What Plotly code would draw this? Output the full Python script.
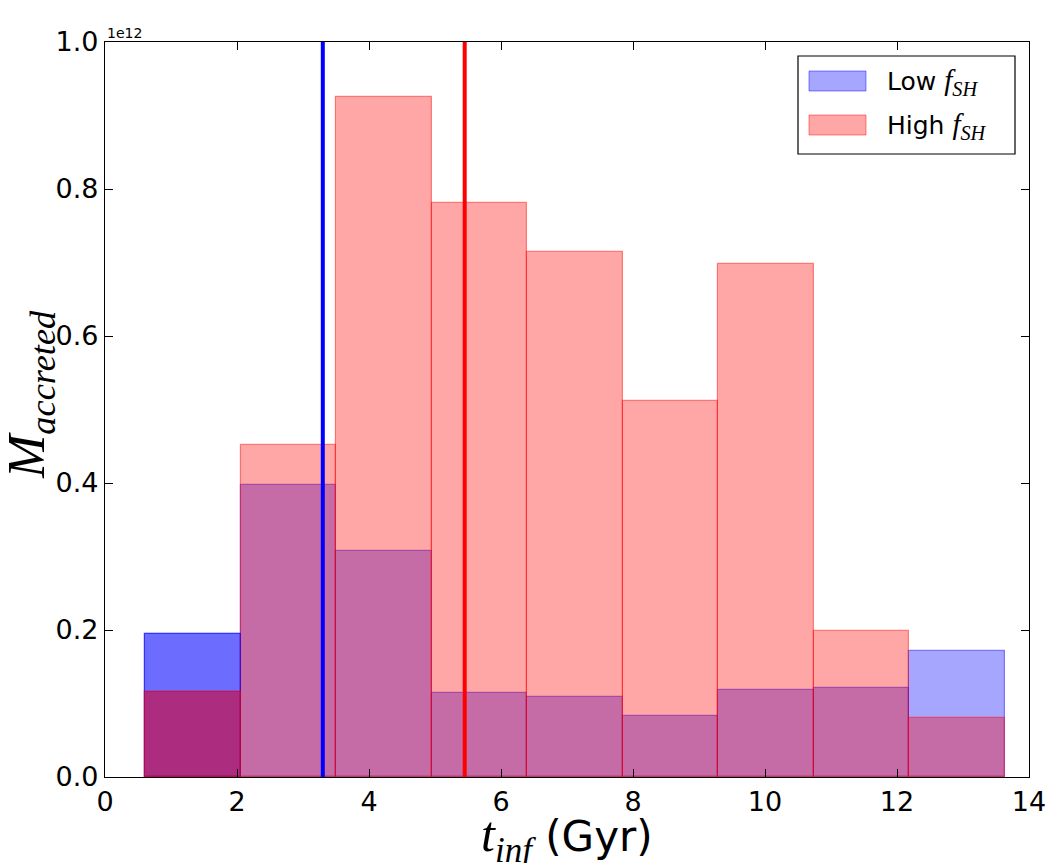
import plotly.graph_objects as go

# histogram bins (Gyr) and accreted mass per bin (units of 1e12)
bin_edges = [0.61, 2.06, 3.50, 4.95, 6.39, 7.85, 9.29, 10.74, 12.18, 13.64]
low_fsh = [0.195, 0.397, 0.308, 0.114, 0.109, 0.083, 0.118, 0.121, 0.171]
high_fsh = [0.116, 0.452, 0.925, 0.781, 0.714, 0.512, 0.698, 0.199, 0.080]
median_low = 3.30
median_high = 5.45
labels = ["Low", "High"]

centers = [(a + b) / 2 for a, b in zip(bin_edges[:-1], bin_edges[1:])]
widths = [b - a for a, b in zip(bin_edges[:-1], bin_edges[1:])]

blue = "rgba(0,0,255,0.35)"
red = "rgba(255,0,0,0.35)"
blue_edge = "rgba(0,0,255,0.45)"
red_edge = "rgba(255,0,0,0.45)"


def mathtext(base, sub, size):
    return ("<span style=\"font-family:'Liberation Serif';font-size:%dpx\">"
            "<i>%s</i><sub><i>%s</i></sub></span>" % (size, base, sub))


def bar(x, y, w, fill, edge):
    return go.Bar(x=x, y=y, width=w, showlegend=False,
                  marker=dict(color=fill, line=dict(color=edge, width=1.2)))


fig = go.Figure()
fig.add_trace(bar(centers, low_fsh, widths, blue, blue_edge))
fig.add_trace(bar(centers, high_fsh, widths, red, red_edge))
# first bin gets drawn twice in the original plot
fig.add_trace(bar(centers[:1], low_fsh[:1], widths[:1], blue, blue_edge))
fig.add_trace(bar(centers[:1], high_fsh[:1], widths[:1], red, red_edge))

fig.add_vline(x=median_low, line=dict(color="#0000ff", width=4))
fig.add_vline(x=median_high, line=dict(color="#ff0000", width=4))

fig.add_annotation(text="1e12", x=0, y=1, xref="paper", yref="paper",
                   xanchor="left", yanchor="bottom", showarrow=False,
                   font=dict(size=14, color="black"), yshift=-1)


# pixel -> paper helpers for the hand placed bits
def px(x):
    return (x - 105) / 924.0


def py(y):
    return (777 - y) / 735.0


# axis titles as annotations (standoff is ignored without automargin)
fig.add_annotation(text="%s (Gyr)" % mathtext("t", "inf", 50),
                   x=0.5, y=py(838), xref="paper", yref="paper",
                   xanchor="center", yanchor="middle", showarrow=False,
                   font=dict(size=42, color="black"))
fig.add_annotation(text=mathtext("M", "accreted", 52),
                   x=px(30), y=py(395), xref="paper", yref="paper",
                   xanchor="center", yanchor="middle", showarrow=False,
                   textangle=-90, font=dict(size=52, color="black"))

# hand-made legend (wide patches like matplotlib)
fig.add_shape(type="rect", xref="paper", yref="paper",
              x0=px(798), x1=px(1015), y0=py(154), y1=py(56),
              line=dict(color="black", width=1.2), fillcolor="white")
for i, (lab, col, edge) in enumerate(zip(labels, [blue, red], [blue_edge, red_edge])):
    top = 71 + i * 44
    fig.add_shape(type="rect", xref="paper", yref="paper",
                  x0=px(809), x1=px(866), y0=py(top + 20), y1=py(top),
                  line=dict(color=edge, width=1), fillcolor=col)
    fig.add_annotation(
        text="%s %s" % (lab, mathtext("f", "SH", 29)),
        x=px(885), y=py(top + 11), xref="paper", yref="paper",
        xanchor="left", yanchor="middle", showarrow=False,
        font=dict(size=25, color="black"))

axis_style = dict(showline=True, linecolor="black", linewidth=1.2, mirror="ticks",
                  ticks="inside", ticklen=8, tickcolor="black", showgrid=False,
                  zeroline=False, automargin=False, ticklabeloverflow="allow",
                  tickfont=dict(size=27, color="black"))

fig.update_xaxes(range=[0, 14], dtick=2, **axis_style)
fig.update_yaxes(range=[0, 1.0], dtick=0.2, tickformat=".1f", **axis_style)

fig.update_layout(
    width=1050, height=863,
    margin=dict(l=105, r=21, t=42, b=86),
    barmode="overlay", bargap=0,
    plot_bgcolor="white", paper_bgcolor="white",
    font=dict(family="DejaVu Sans", color="black"),
    showlegend=False,
)

# drop the default 8px page margin so the figure fills the window
fig.write_html("out.html", config={"displayModeBar": False},
               post_script="document.body.style.margin='0';")
